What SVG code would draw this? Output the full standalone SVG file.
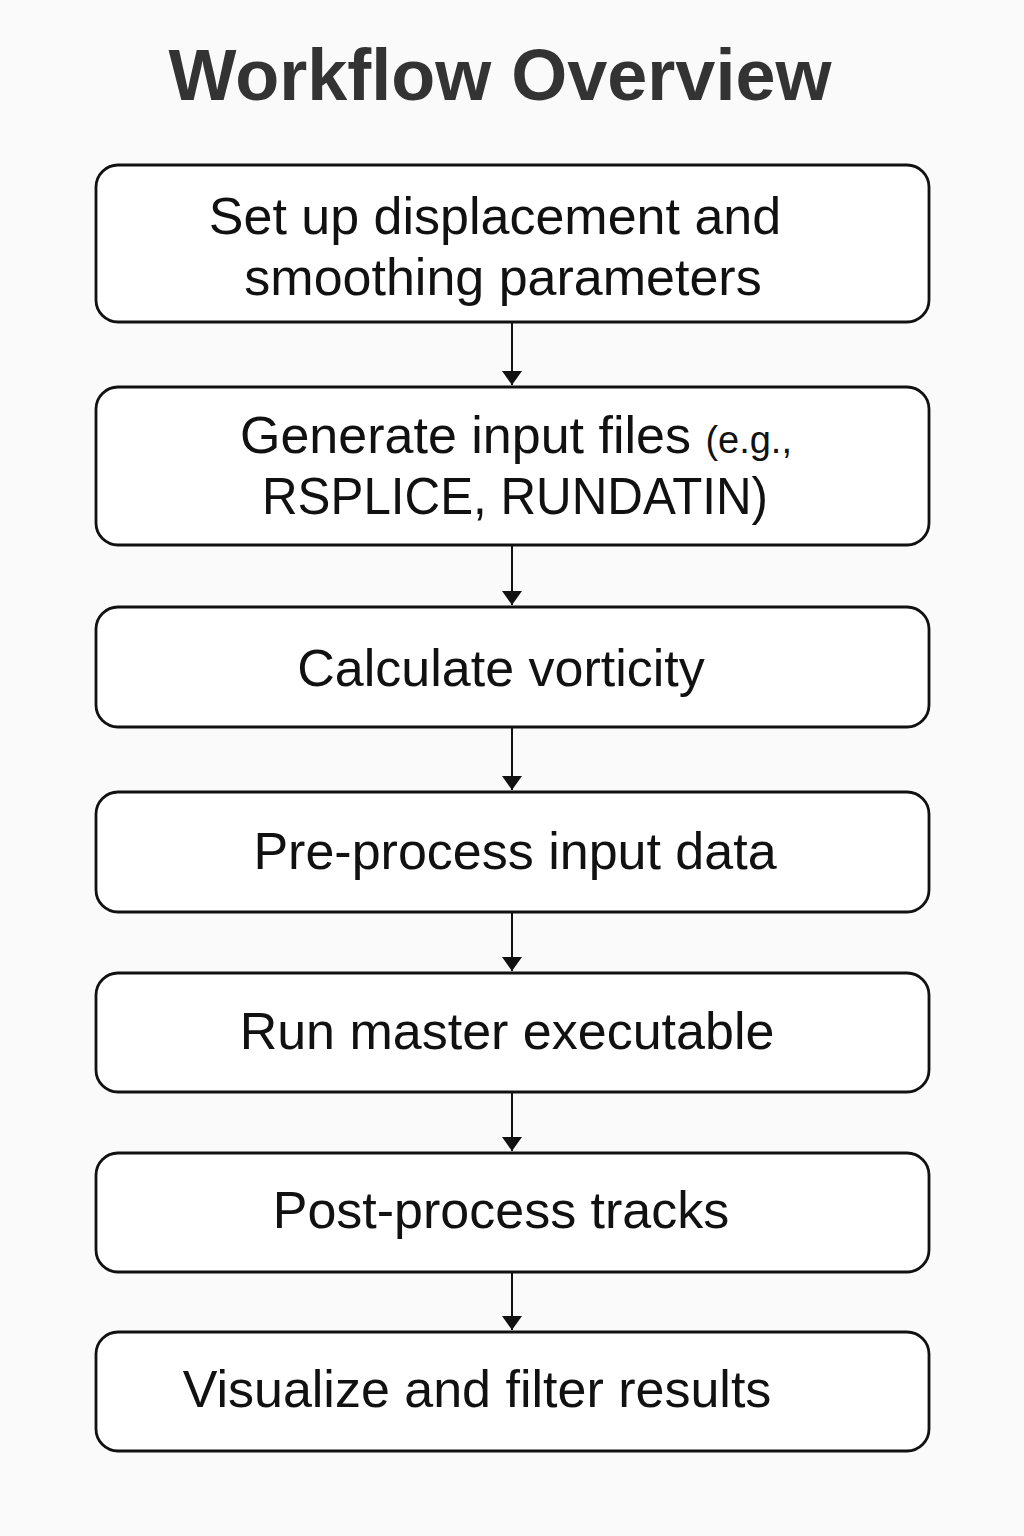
<svg xmlns="http://www.w3.org/2000/svg" width="1024" height="1536" viewBox="0 0 1024 1536">
<defs>
<style>
.box{fill:#ffffff;stroke:#111;stroke-width:2.8}
.t{font-family:"Liberation Sans",Arial,sans-serif;font-size:52px;fill:#111;text-anchor:middle}
.title{font-family:"Liberation Sans",Arial,sans-serif;font-size:72px;font-weight:bold;fill:#333;text-anchor:middle}
.c{stroke:#111;stroke-width:2;fill:none}
</style>
<marker id="ah" markerWidth="14" markerHeight="20" refX="14" refY="10" orient="auto" markerUnits="userSpaceOnUse" viewBox="0 0 14 20">
<path d="M0,0 L14,10 L0,20 Z" fill="#111"/>
</marker>
</defs>
<rect width="1024" height="1536" fill="#fafafa"/>
<text class="title" x="500" y="100">Workflow Overview</text>
<g id="connectors">
<line class="c" x1="512" y1="323" x2="512" y2="385" marker-end="url(#ah)"/>
<line class="c" x1="512" y1="546" x2="512" y2="605" marker-end="url(#ah)"/>
<line class="c" x1="512" y1="728" x2="512" y2="790" marker-end="url(#ah)"/>
<line class="c" x1="512" y1="913" x2="512" y2="971" marker-end="url(#ah)"/>
<line class="c" x1="512" y1="1093" x2="512" y2="1151" marker-end="url(#ah)"/>
<line class="c" x1="512" y1="1273" x2="512" y2="1330" marker-end="url(#ah)"/>
</g>
<g id="n1">
<rect class="box" x="96" y="165" width="833" height="157" rx="22"/>
<text class="t" x="495" y="234">Set up displacement and</text>
<text class="t" x="503" y="295">smoothing parameters</text>
</g>
<g id="n2">
<rect class="box" x="96" y="387" width="833" height="158" rx="22"/>
<text class="t" x="516" y="453">Generate input files <tspan font-size="38">(e.g.,</tspan></text>
<text class="t" x="515" y="514" textLength="506" lengthAdjust="spacingAndGlyphs">RSPLICE, RUNDATIN)</text>
</g>
<g id="n3">
<rect class="box" x="96" y="607" width="833" height="120" rx="22"/>
<text class="t" x="501" y="686">Calculate vorticity</text>
</g>
<g id="n4">
<rect class="box" x="96" y="792" width="833" height="120" rx="22"/>
<text class="t" x="515" y="869">Pre-process input data</text>
</g>
<g id="n5">
<rect class="box" x="96" y="973" width="833" height="119" rx="22"/>
<text class="t" x="507" y="1049">Run master executable</text>
</g>
<g id="n6">
<rect class="box" x="96" y="1153" width="833" height="119" rx="22"/>
<text class="t" x="501" y="1228">Post-process tracks</text>
</g>
<g id="n7">
<rect class="box" x="96" y="1332" width="833" height="119" rx="22"/>
<text class="t" x="477" y="1407">Visualize and filter results</text>
</g>
</svg>
